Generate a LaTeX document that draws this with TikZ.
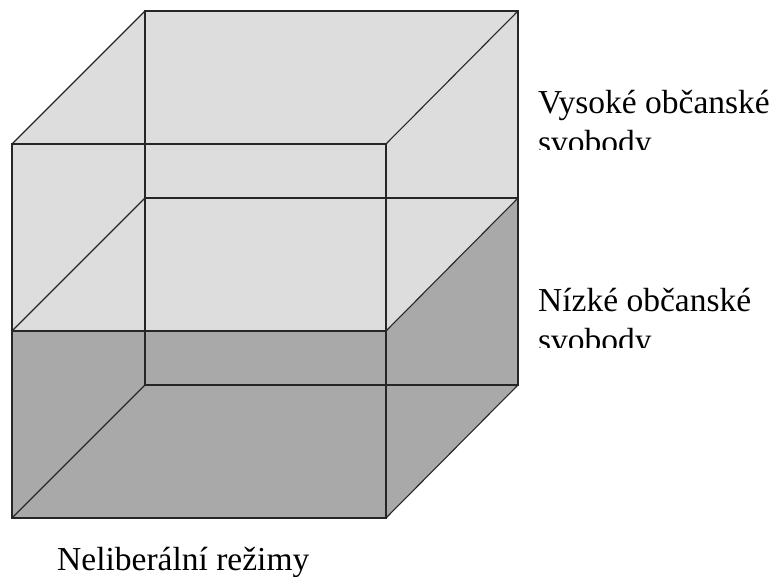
\documentclass[tikz,border=0pt]{standalone}
\usepackage{fontspec}
\setmainfont{Liberation Serif}
\usetikzlibrary{positioning}
\definecolor{upperfill}{HTML}{DDDDDD}
\definecolor{lowerfill}{HTML}{A9A9A9}
\tikzset{
  cedge/.style={draw=black!85, line width=1.1pt},
  cfill/.style={draw=none},
  clabel/.style={font=\fontsize{33.5}{40}\selectfont, anchor=base west, inner sep=0pt, align=left}
}

\begin{document}
\begin{tikzpicture}[x=1pt,y=-1pt]
\useasboundingbox (0,0) rectangle (782,577);
% front face corners
\coordinate (ftl) at (12,144);
\coordinate (ftr) at (386,144);
\coordinate (fml) at (12,331);
\coordinate (fmr) at (386,331);
\coordinate (fbl) at (12,518);
\coordinate (fbr) at (386,518);
% back face corners
\coordinate (btl) at (145,11);
\coordinate (btr) at (518,11);
\coordinate (bml) at (145,198);
\coordinate (bmr) at (518,198);
\coordinate (bbl) at (145,385);
\coordinate (bbr) at (518,385);

% lower and upper blocks
\fill[lowerfill, cfill] (fml) -- (bml) -- (bmr) -- (bbr) -- (fbr) -- (fbl) -- cycle;
\fill[upperfill, cfill] (ftl) -- (btl) -- (btr) -- (bmr) -- (fmr) -- (fml) -- cycle;

% edges
\draw[cedge] (btl) rectangle (bbr);
\draw[cedge] (bml) -- (bmr);
\draw[cedge] (ftl) -- (btl) (ftr) -- (btr);
\draw[cedge] (fml) -- (bml) (fmr) -- (bmr);
\draw[cedge] (fbl) -- (bbl) (fbr) -- (bbr);
\draw[cedge] (ftl) rectangle (fbr);
\draw[cedge] (fml) -- (fmr);

% labels (second line cut off)
\begin{scope}
  \clip (530,60) rectangle (782,150);
  \node[clabel] (high) at (538,154) {Vysoké občanské\\svobody};
\end{scope}
\begin{scope}
  \clip (530,260) rectangle (782,348);
  \node[clabel] (low) at (538,352) {Nízké občanské\\svobody};
\end{scope}
\node[clabel] (illib) at (57,570) {Neliberální režimy};
\end{tikzpicture}
\end{document}
